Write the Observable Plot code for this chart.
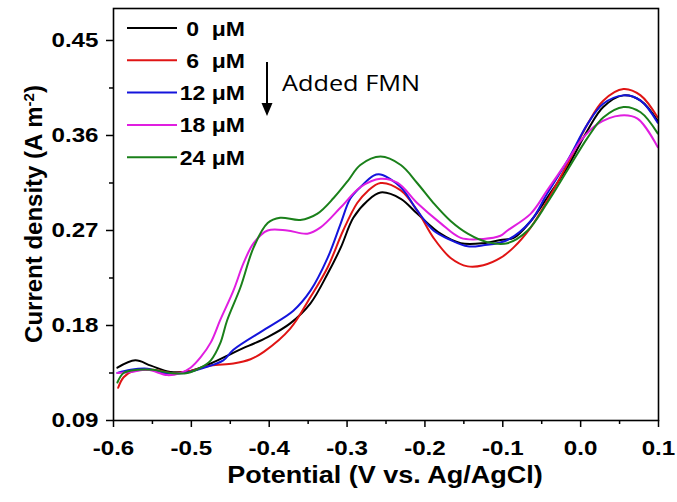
<!DOCTYPE html>
<html>
<head>
<meta charset="utf-8">
<script src="https://cdn.jsdelivr.net/npm/d3@7"></script>
<script src="https://cdn.jsdelivr.net/npm/@observablehq/plot@0.6"></script>
<style>
  html, body { margin: 0; padding: 0; background: #fff; }
  #chart { width: 677px; height: 502px; }
</style>
</head>
<body>
<div id="chart"></div>
<script>
// ---- Tick values ----
const xTicks = [-0.6, -0.5, -0.4, -0.3, -0.2, -0.1, 0.0, 0.1];
const xMinorTicks = [-0.55, -0.45, -0.35, -0.25, -0.15, -0.05, 0.05];
const yTicks = [0.09, 0.18, 0.27, 0.36, 0.45];
const yMinorTicks = [0.135, 0.225, 0.315, 0.405];

// ---- Series ----
const seriesLabels = ["0\u00a0\u00a0\u03bcM", "6\u00a0\u00a0\u03bcM", "12 \u03bcM", "18 \u03bcM", "24 \u03bcM"];
const seriesColors = ["#000000", "#e01414", "#1414dc", "#e01ee0", "#1a801a"];

// 0 uM
const pot0 = [-0.595,-0.572,-0.552,-0.527,-0.501,-0.475,-0.441,-0.402,-0.373,-0.347,-0.325,-0.308,-0.292,-0.274,-0.257,-0.231,-0.210,-0.180,-0.154,-0.125,-0.103,-0.086,-0.064,-0.043,-0.017,0.009,0.029,0.055,0.077,0.099];
const cur0 = [0.140,0.147,0.142,0.136,0.137,0.144,0.156,0.169,0.182,0.201,0.229,0.254,0.282,0.298,0.306,0.300,0.286,0.267,0.258,0.258,0.261,0.263,0.279,0.301,0.330,0.365,0.387,0.398,0.393,0.374];
// 6 uM
const pot6 = [-0.594,-0.587,-0.574,-0.549,-0.523,-0.501,-0.475,-0.446,-0.424,-0.407,-0.373,-0.347,-0.325,-0.305,-0.287,-0.274,-0.257,-0.231,-0.210,-0.189,-0.167,-0.145,-0.125,-0.103,-0.086,-0.064,-0.043,-0.017,0.009,0.029,0.055,0.077,0.099];
const cur6 = [0.121,0.131,0.137,0.138,0.135,0.137,0.142,0.144,0.148,0.155,0.177,0.207,0.235,0.270,0.296,0.307,0.315,0.308,0.289,0.263,0.244,0.236,0.237,0.244,0.254,0.273,0.298,0.333,0.371,0.393,0.404,0.398,0.377];
// 12 uM
const pot12 = [-0.595,-0.578,-0.556,-0.536,-0.510,-0.484,-0.459,-0.446,-0.402,-0.369,-0.347,-0.325,-0.308,-0.296,-0.283,-0.266,-0.257,-0.231,-0.210,-0.189,-0.167,-0.145,-0.125,-0.094,-0.064,-0.043,-0.017,0.009,0.029,0.055,0.077,0.099];
const cur12 = [0.135,0.138,0.139,0.135,0.135,0.140,0.147,0.157,0.178,0.194,0.213,0.244,0.277,0.300,0.311,0.322,0.323,0.311,0.289,0.270,0.261,0.255,0.256,0.261,0.279,0.305,0.336,0.371,0.390,0.398,0.393,0.372];
// 18 uM
const pot18 = [-0.595,-0.578,-0.556,-0.531,-0.514,-0.501,-0.488,-0.475,-0.463,-0.446,-0.433,-0.420,-0.402,-0.377,-0.351,-0.334,-0.308,-0.283,-0.257,-0.235,-0.210,-0.180,-0.154,-0.125,-0.103,-0.094,-0.064,-0.043,-0.017,0.000,0.022,0.051,0.073,0.099];
const cur18 = [0.135,0.136,0.138,0.133,0.135,0.140,0.150,0.164,0.185,0.213,0.239,0.258,0.270,0.270,0.267,0.273,0.292,0.311,0.319,0.315,0.296,0.277,0.263,0.262,0.265,0.270,0.286,0.308,0.336,0.355,0.371,0.379,0.376,0.349];
// 24 uM
const pot24 = [-0.595,-0.587,-0.569,-0.549,-0.527,-0.505,-0.488,-0.475,-0.463,-0.454,-0.437,-0.420,-0.402,-0.386,-0.360,-0.338,-0.317,-0.299,-0.283,-0.257,-0.231,-0.210,-0.189,-0.167,-0.145,-0.120,-0.094,-0.068,-0.043,-0.017,0.009,0.029,0.055,0.077,0.099];
const cur24 = [0.126,0.135,0.138,0.138,0.135,0.135,0.140,0.147,0.163,0.185,0.216,0.254,0.277,0.282,0.280,0.286,0.301,0.317,0.332,0.340,0.332,0.315,0.296,0.279,0.267,0.259,0.258,0.270,0.296,0.327,0.358,0.377,0.387,0.382,0.362];

const potentials = [pot0, pot6, pot12, pot18, pot24];
const currents = [cur0, cur6, cur12, cur18, cur24];

const rows = [];
potentials.forEach((p, i) => p.forEach((x, j) => rows.push({series: seriesLabels[i], x, y: currents[i][j]})));

const FONT = "'Liberation Sans', Arial, sans-serif";
const SX = 1.15; // horizontal stretch of the reference's lettering

const chart = Plot.plot({
  width: 677, height: 502,
  marginLeft: 113, marginRight: 19, marginTop: 8, marginBottom: 82,
  style: {fontFamily: FONT, fontWeight: "bold", fontSize: "21px", color: "#000", background: "#fff", overflow: "visible"},
  x: {domain: [-0.6, 0.1]},
  y: {domain: [0.09, 0.4803]},
  color: {domain: seriesLabels, range: seriesColors},
  marks: [
    Plot.axisX(xTicks, {tickSize: 7, tickPadding: 13, tickFormat: d => d.toFixed(1), label: null, strokeWidth: 1.5}),
    Plot.axisX(xMinorTicks, {tickSize: 4, tickFormat: () => "", label: null, strokeWidth: 1.5}),
    Plot.axisY(yTicks, {tickSize: 7, tickPadding: 8, tickFormat: d => d.toFixed(2), label: null, strokeWidth: 1.5}),
    Plot.axisY(yMinorTicks, {tickSize: 4, tickFormat: () => "", label: null, strokeWidth: 1.5}),
    Plot.line(rows, {x: "x", y: "y", z: "series", stroke: "series", strokeWidth: 2, curve: "catmull-rom"}),
    Plot.frame({stroke: "#000", strokeWidth: 1.6})
  ]
});
document.getElementById("chart").appendChild(chart);

const svg = d3.select(chart);
// stretch tick labels horizontally like the reference (wrap each label, scale about its anchor)
svg.selectAll("g[aria-label='x-axis tick label'] text, g[aria-label='y-axis tick label'] text").each(function() {
  if (!this.textContent) return;
  const isY = this.closest("g[aria-label='y-axis tick label']") != null;
  const bb = this.getBBox();
  const ctm = this.getCTM();
  const parentCtm = this.parentNode.getCTM();
  const localAx = isY ? bb.x + bb.width : bb.x + bb.width / 2;
  const pt = chart.createSVGPoint(); pt.x = localAx; pt.y = bb.y;
  const p2 = pt.matrixTransform(parentCtm.inverse().multiply(ctm));
  const ax = p2.x;
  const g = document.createElementNS("http://www.w3.org/2000/svg", "g");
  g.setAttribute("transform", `translate(${ax},0) scale(${SX},1) translate(${-ax},0)`);
  this.parentNode.insertBefore(g, this);
  g.appendChild(this);
});

// Axis titles
svg.append("text")
  .attr("transform", `translate(385,483) scale(${SX},1)`)
  .attr("text-anchor", "middle")
  .attr("font-size", 23.5).attr("font-weight", "bold")
  .attr("font-family", FONT)
  .text("Potential (V vs. Ag/AgCl)");
const yt = svg.append("text")
  .attr("transform", `translate(42,214) rotate(-90)`)
  .attr("text-anchor", "middle")
  .attr("font-size", 24).attr("font-weight", "bold")
  .attr("font-family", FONT);
yt.append("tspan").text("Current density (A m");
yt.append("tspan").attr("baseline-shift", "super").attr("font-size", 15).text("-2");
yt.append("tspan").text(")");

// Legend
const lg = svg.append("g");
const legendY0 = 28, legendStep = 32.3;
seriesLabels.forEach((lab, i) => {
  const yy = legendY0 + i * legendStep;
  lg.append("line").attr("x1", 127).attr("x2", 177).attr("y1", yy).attr("y2", yy)
    .attr("stroke", seriesColors[i]).attr("stroke-width", 2);
  lg.append("text").attr("transform", `translate(245,${yy + 7.5}) scale(${SX},1)`)
    .attr("text-anchor", "end")
    .attr("font-size", 20).attr("font-weight", "bold")
    .attr("font-family", FONT)
    .text(lab);
});
// Arrow annotation
lg.append("line").attr("x1", 267).attr("x2", 267).attr("y1", 62).attr("y2", 105)
  .attr("stroke", "#000").attr("stroke-width", 2);
lg.append("path").attr("d", "M261.5,103 L272.5,103 L267,116 Z").attr("fill", "#000");
lg.append("text").attr("transform", `translate(282,91) scale(${SX},1)`)
  .attr("text-anchor", "start")
  .attr("font-size", 22).attr("font-weight", "normal")
  .attr("font-family", "'Open Sans', 'Noto Sans', sans-serif")
  .text("Added FMN");
</script>
</body>
</html>
